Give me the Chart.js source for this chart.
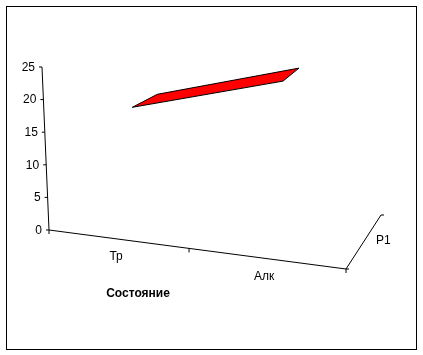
<!DOCTYPE html>
<html>
<head>
<meta charset="utf-8">
<script src="https://cdn.jsdelivr.net/npm/chart.js@4/dist/chart.umd.min.js"></script>
<style>
  html, body { margin: 0; padding: 0; background: #fff; }
  canvas { display: block; }
</style>
</head>
<body>
<canvas id="c" width="423" height="355"></canvas>
<script>
// ---- data ----
const categories = ["Тр", "Алк"];
const seriesName = "Р1";
const seriesValues = [17, 24];
const valueTicks = [0, 5, 10, 15, 20, 25];
const axisTitle = "Состояние";

const FONT = '"Liberation Sans", Arial, sans-serif';

// pseudo-3D renderer using the chart's own scales
const draw3D = {
  id: 'draw3D',
  afterDraw(chart) {
    const ctx = chart.ctx, a = chart.chartArea;
    const xs = chart.scales.x, ys = chart.scales.y;
    const y0 = ys.getPixelForValue(0);
    const W = a.right - a.left;
    const FLOOR_DROP = 39;          // front floor edge descends to the right
    const LEAN = 7 / 163;           // value axis leans left going up
    const DEPTH_AXIS = [35, -54];   // depth axis vector at right end
    const PERSP = 1.121;            // foreshortening along the category axis
    const RIBBON_SHIFT = [32.5, -27.3];
    // perspective-warp a flat x pixel along the front edge
    const warp = px => {
      const u = (px - a.left) / W;
      const f = u / (u + (1 - u) * PERSP);
      return a.left + W * f;
    };
    const front = px => { const X = warp(px); return [X, y0 + (X - a.left) / W * FLOOR_DROP]; };
    const lift = (p, py) => { const dy = py - y0; return [p[0] + LEAN * dy, p[1] + dy]; };
    const line = (p, q) => { ctx.beginPath(); ctx.moveTo(p[0], p[1]); ctx.lineTo(q[0], q[1]); ctx.stroke(); };

    ctx.save();
    ctx.strokeStyle = '#000';
    ctx.fillStyle = '#000';
    ctx.lineWidth = 1;

    // outer frame
    ctx.strokeRect(6.5, 6.5, 410, 343);

    // value axis
    const origin = [a.left, y0];
    const axTop = lift(origin, ys.getPixelForValue(ys.max));
    line(origin, axTop);
    ctx.font = '12px ' + FONT;
    ctx.textAlign = 'right';
    ctx.textBaseline = 'middle';
    ys.ticks.forEach(t => {
      const p = lift(origin, ys.getPixelForValue(t.value));
      line([p[0] - 3, p[1]], p);
      ctx.fillText(String(t.value), p[0] - 7, p[1] + 0.5);
    });

    // front floor (category) axis
    const fR = front(a.right);
    line(front(a.left), fR);
    const n = categories.length;
    for (let i = 0; i <= n; i++) {
      const p = front(a.left + W * i / n);
      line(p, [p[0], p[1] + 4]);
    }
    ctx.textAlign = 'center';
    categories.forEach((c, i) => {
      const p = front(xs.getPixelForValue(i));
      ctx.fillText(c, p[0] - 1, p[1] + 18);
    });

    // depth (series) axis
    const dEnd = [fR[0] + DEPTH_AXIS[0], fR[1] + DEPTH_AXIS[1]];
    line(fR, dEnd);
    line(fR, [fR[0] + 3, fR[1]]);
    line(dEnd, [dEnd[0] + 3, dEnd[1]]);
    ctx.textAlign = 'left';
    ctx.fillText(seriesName, fR[0] + 30, fR[1] - 28.5);

    // axis title
    ctx.font = 'bold 12px ' + FONT;
    ctx.textAlign = 'center';
    ctx.fillText(axisTitle, a.left + 89, y0 + 64);

    // ribbon for the series
    const pts = chart.getDatasetMeta(0).data;
    const corners = pts.map(pt => {
      const u = (pt.x - a.left) / W;
      const base = front(pt.x);
      const c0 = lift(base, pt.y);
      const c = [c0[0] + RIBBON_SHIFT[0], c0[1] + RIBBON_SHIFT[1]];
      const t = [25 - 18 * (u - 0.25), -13];
      return { f: [c[0] - t[0] / 2, c[1] - t[1] / 2], b: [c[0] + t[0] / 2, c[1] + t[1] / 2] };
    });
    ctx.fillStyle = '#ff0000';
    ctx.strokeStyle = '#000';
    for (let i = 0; i < corners.length - 1; i++) {
      const p = corners[i], q = corners[i + 1];
      ctx.beginPath();
      ctx.moveTo(p.f[0], p.f[1]);
      ctx.lineTo(p.b[0], p.b[1]);
      ctx.lineTo(q.b[0], q.b[1]);
      ctx.lineTo(q.f[0], q.f[1]);
      ctx.closePath();
      ctx.fill();
      ctx.stroke();
    }
    ctx.restore();
  }
};

new Chart(document.getElementById('c'), {
  type: 'line',
  data: {
    labels: categories,
    datasets: [{
      label: seriesName,
      data: seriesValues,
      showLine: false,
      pointRadius: 0,
      borderColor: 'rgba(0,0,0,0)',
      backgroundColor: 'rgba(0,0,0,0)'
    }]
  },
  options: {
    responsive: false,
    devicePixelRatio: 1,
    animation: false,
    layout: { padding: { left: 49, right: 77, top: 67, bottom: 125 } },
    plugins: { legend: { display: false }, tooltip: { enabled: false } },
    scales: {
      x: { type: 'category', offset: true, display: false },
      y: {
        type: 'linear', min: 0, max: 25, display: false,
        afterBuildTicks: s => { s.ticks = valueTicks.map(v => ({ value: v })); }
      }
    }
  },
  plugins: [draw3D]
});
</script>
</body>
</html>
